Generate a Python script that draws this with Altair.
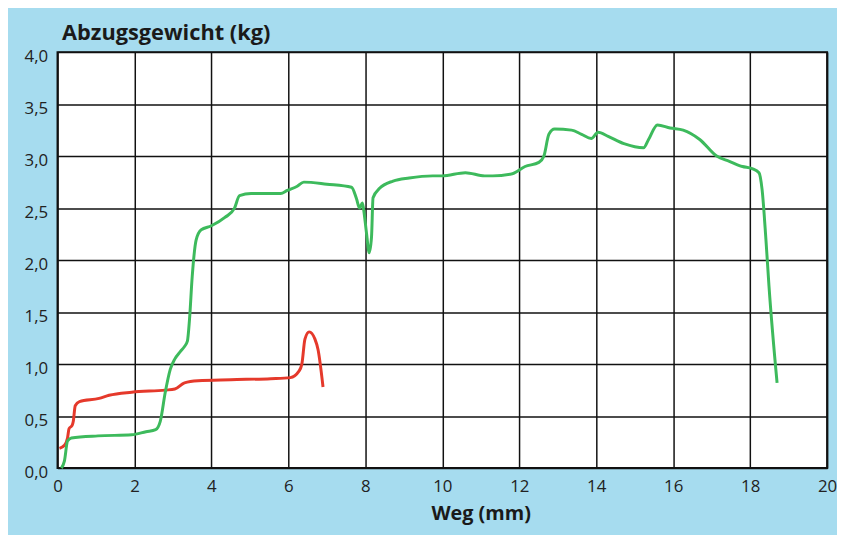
import altair as alt
import pandas as pd

# Red curve
red_x = [0.05, 0.18, 0.26, 0.30, 0.38, 0.41, 0.46, 0.57, 1.08, 1.34, 1.93, 2.80, 3.05,
         3.30, 3.65, 4.50, 5.54, 6.05, 6.27, 6.35, 6.43, 6.54, 6.69, 6.77, 6.90]
red_y = [0.19, 0.22, 0.29, 0.38, 0.41, 0.45, 0.60, 0.64, 0.67, 0.70, 0.73, 0.75, 0.76,
         0.82, 0.84, 0.85, 0.86, 0.87, 0.93, 1.00, 1.24, 1.31, 1.24, 1.14, 0.78]

# Green curve
green_x = [0.10, 0.18, 0.26, 0.36, 1.05, 1.93, 2.30, 2.55, 2.67, 2.80, 2.93, 3.05, 3.19,
           3.30, 3.375, 3.43, 3.50, 3.60, 3.73, 4.00, 4.35, 4.60, 4.73, 5.03, 5.80, 5.97,
           6.23, 6.40, 7.00, 7.64, 7.77, 7.85, 7.92, 7.95, 8.03, 8.10, 8.16, 8.20, 8.37,
           8.72, 9.14, 9.75, 10.0, 10.6, 11.1, 11.31, 11.82, 12.15, 12.51, 12.64, 12.77,
           12.92, 13.36, 13.62, 13.87, 14.05, 14.31, 14.72, 15.23, 15.36, 15.59, 15.92,
           16.26, 16.69, 17.13, 17.46, 17.80, 18.05, 18.23, 18.31, 18.41, 18.49, 18.70]
green_y = [0.00, 0.07, 0.26, 0.29, 0.31, 0.32, 0.35, 0.37, 0.45, 0.73, 0.95, 1.05, 1.12,
           1.17, 1.22, 1.43, 1.84, 2.19, 2.29, 2.33, 2.41, 2.50, 2.62, 2.64, 2.64, 2.67,
           2.71, 2.75, 2.73, 2.70, 2.59, 2.50, 2.55, 2.50, 2.26, 2.07, 2.22, 2.60, 2.69,
           2.76, 2.79, 2.81, 2.81, 2.84, 2.81, 2.81, 2.83, 2.90, 2.94, 3.00, 3.21, 3.26,
           3.25, 3.21, 3.17, 3.23, 3.19, 3.12, 3.08, 3.16, 3.30, 3.27, 3.25, 3.16, 3.00,
           2.95, 2.90, 2.88, 2.84, 2.68, 2.20, 1.75, 0.82]

x_ticks = list(range(0, 21, 2))
y_ticks = [0.0, 0.5, 1.0, 1.5, 2.0, 2.5, 3.0, 3.5, 4.0]

rows = []
for i, (x, y) in enumerate(zip(red_x, red_y)):
    rows.append({"serie": "rot", "x": x, "y": y, "i": i})
for i, (x, y) in enumerate(zip(green_x, green_y)):
    rows.append({"serie": "grün", "x": x, "y": y, "i": i})
df = pd.DataFrame(rows)

FONT = "Open Sans"

chart = alt.Chart(df).mark_line(strokeWidth=3, interpolate="monotone").encode(
    x=alt.X("x:Q",
            scale=alt.Scale(domain=[0, 20], nice=False, zero=False),
            axis=alt.Axis(values=x_ticks, grid=True, gridColor="#111111", gridWidth=1.5,
                          domain=False, ticks=False, labelPadding=11, labelFontSize=17,
                          labelFont=FONT, labelColor="#222222", labelFlush=False,
                          title="Weg (mm)", titleFont=FONT, titleFontSize=20,
                          titleFontWeight="bold", titleColor="#1a1a1a",
                          titleX=377, titleY=52, titleAlign="left",
                          titleBaseline="alphabetic")),
    y=alt.Y("y:Q",
            scale=alt.Scale(domain=[0, 4], nice=False),
            axis=alt.Axis(values=y_ticks, grid=True, gridColor="#111111", gridWidth=1.5,
                          domain=False, ticks=False, labelPadding=10, labelFontSize=17,
                          labelFont=FONT, labelColor="#222222", labelOffset=4,
                          labelExpr="replace(format(datum.value, '.1f'), '.', ',')",
                          title="Abzugsgewicht (kg)", titleFont=FONT, titleFontSize=22,
                          titleFontWeight="bold", titleColor="#1a1a1a", titleAngle=0,
                          titleX=4, titleY=-13, titleAlign="left",
                          titleBaseline="alphabetic")),
    color=alt.Color("serie:N",
                    scale=alt.Scale(domain=["rot", "grün"], range=["#e5392b", "#3dba5c"]),
                    legend=None),
    detail="serie:N",
    order="i:Q",
).properties(
    width=777,
    height=420,
    autosize=alt.AutoSizeParams(type="none"),
    padding={"left": 50, "top": 42, "right": 10, "bottom": 65},
    background="#a6dcef",
).configure_view(
    fill="white", stroke="#111111", strokeWidth=2
)

chart.save("out.html", embed_options={"renderer": "svg", "actions": False})
